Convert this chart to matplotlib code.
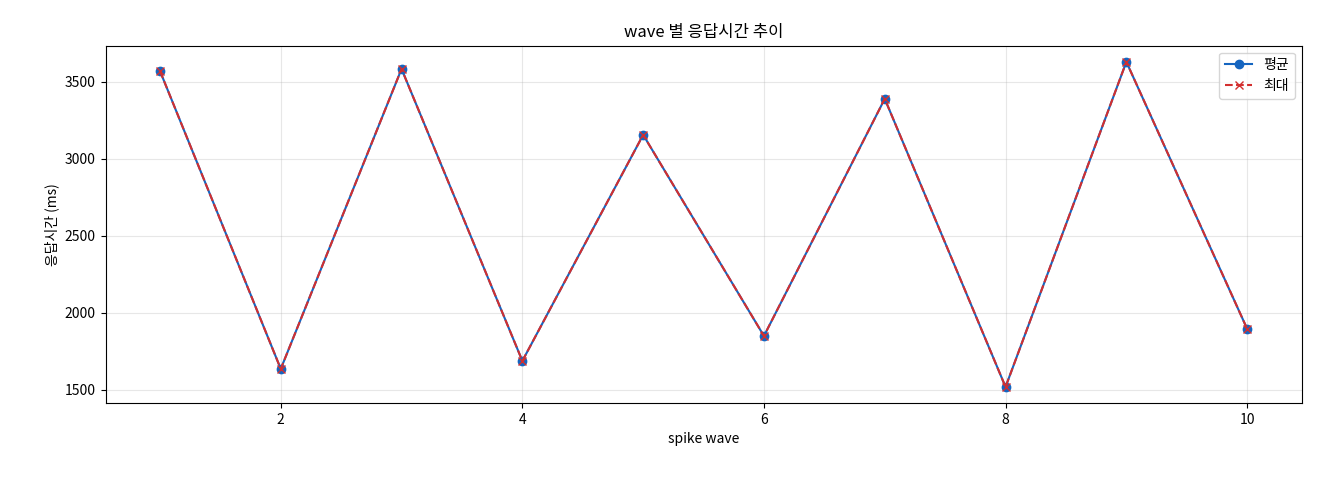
import matplotlib
matplotlib.use("Agg")
import matplotlib.pyplot as plt

plt.rcParams['font.family'] = ['Noto Sans CJK KR', 'DejaVu Sans']

waves = [1, 2, 3, 4, 5, 6, 7, 8, 9, 10]
avg_ms = [3571, 1636, 3584, 1688, 3156, 1850, 3390, 1519, 3630, 1896]
max_ms = [3571, 1636, 3584, 1688, 3156, 1850, 3390, 1519, 3630, 1896]

fig, ax = plt.subplots(figsize=(13.2, 4.8), dpi=100)
ax.plot(waves, avg_ms, marker='o', color='#1565c0', label='평균', markersize=6)
ax.plot(waves, max_ms, marker='x', linestyle='--', color='#d32f2f', label='최대', markersize=6)
ax.set_title('wave 별 응답시간 추이')
ax.set_xlabel('spike wave')
ax.set_ylabel('응답시간 (ms)')
ax.grid(True, alpha=0.3)
ax.legend(loc='upper right')
fig.subplots_adjust(left=0.08, right=0.986, top=0.905, bottom=0.16)
fig.savefig('out.png')
